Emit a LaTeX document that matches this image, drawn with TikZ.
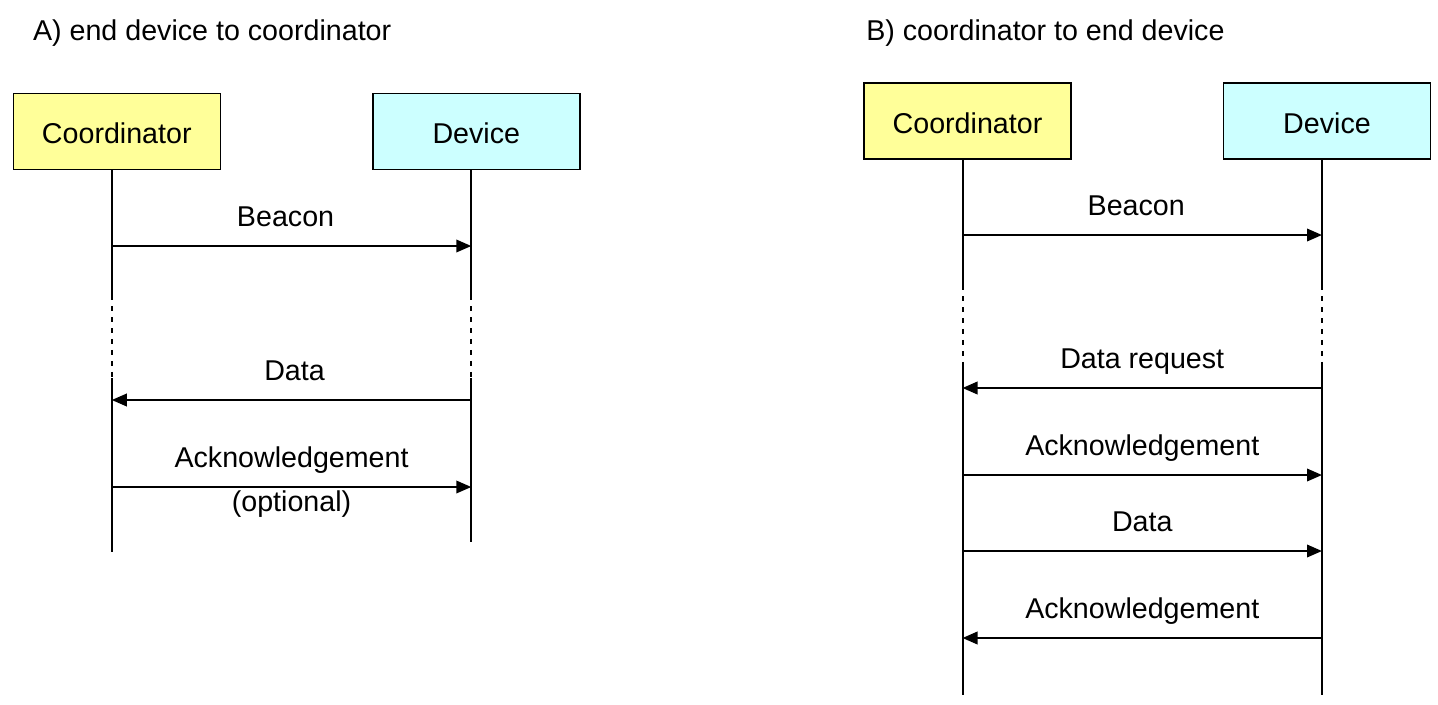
\documentclass[tikz,border=0pt]{standalone}
\usepackage{fontspec}
\setmainfont{Liberation Sans}
\usetikzlibrary{arrows.meta}
\usetikzlibrary{positioning}
\definecolor{canary}{RGB}{255, 255, 153}
\definecolor{icecyan}{RGB}{204, 255, 255}

\begin{document}
\begin{tikzpicture}[x=0.02cm, y=-0.02cm,
            every node/.style={font=\fontsize{16.3}{19}\selectfont},
            actor/.style={draw, line width=0.03cm, minimum width=4.14cm, minimum height=1.52cm, inner sep=0pt},
            lifeline/.style={line width=0.04cm},
            gap/.style={line width=0.04cm, dash pattern=on 0.1cm off 0.12cm},
            msg/.style={line width=0.04cm, -{Triangle[length=0.3cm, width=0.25cm]}},
            lbl/.style={anchor=base, yshift=0.39cm},
            sublbl/.style={anchor=base, yshift=-0.48cm}]
            \useasboundingbox                                          (0, 0) rectangle (1438, 704);
            \node[anchor=base west, inner sep=0pt] (titleA) at (  32.7, 40.5) {A) end device to coordinator};
            \node[anchor=base west, inner sep=0pt] (titleB) at ( 866.0, 40.5) {B) coordinator to end device};
            \node[actor, fill=canary]  (coordA) at ( 116.8, 131.5) {\raisebox{-0.04cm}[\height][0pt]{Coordinator}};
            \node[actor, fill=icecyan] (devA)   at ( 476.3, 131.5) {\raisebox{-0.04cm}[\height][0pt]{Device}};
            \node[actor, fill=canary]  (coordB) at ( 967.5, 121.0) {\raisebox{-0.04cm}[\height][0pt]{Coordinator}};
            \node[actor, fill=icecyan] (devB)   at (1327.0, 121.0) {\raisebox{-0.04cm}[\height][0pt]{Device}};
            \coordinate (coordAl) at ([xshift=-0.1cm]coordA.south);
            \coordinate (devAl)   at ([xshift=-0.1cm]devA.south);
            \coordinate (coordBl) at ([xshift=-0.1cm]coordB.south);
            \coordinate (devBl)   at ([xshift=-0.1cm]devB.south);
            \foreach \l/\a/\b/\e in {coordAl/295/378/552, devAl/295/378/542, coordBl/285/367/695, devBl/285/367/695} {
                \draw[lifeline] (\l) -- (\l |- 0,\a);
                \draw[gap]      (\l |- 0,\a) -- (\l |- 0,\b);
                \draw[lifeline] (\l |- 0,\b) -- (\l |- 0,\e);
            }
            \draw[msg] (coordAl |- 0,246) -- (devAl |- 0,246)   node[midway, lbl, xshift=-0.12cm] {Beacon};
            \draw[msg] (devAl |- 0,400)   -- (coordAl |- 0,400) node[midway, lbl, xshift=0.06cm] {Data};
            \draw[msg] (coordAl |- 0,487) -- (devAl |- 0,487)   node[midway, lbl] {Acknowledgement}
                 node[midway, sublbl] {(optional)};
            \draw[msg] (coordBl |- 0,235) -- (devBl |- 0,235)   node[midway, lbl, xshift=-0.12cm] {Beacon};
            \draw[msg] (devBl |- 0,388)   -- (coordBl |- 0,388) node[midway, lbl] {Data request};
            \draw[msg] (coordBl |- 0,475) -- (devBl |- 0,475)   node[midway, lbl] {Acknowledgement};
            \draw[msg] (coordBl |- 0,551) -- (devBl |- 0,551)   node[midway, lbl] {Data};
            \draw[msg] (devBl |- 0,638)   -- (coordBl |- 0,638) node[midway, lbl] {Acknowledgement};
            \end{tikzpicture}
\end{document}
